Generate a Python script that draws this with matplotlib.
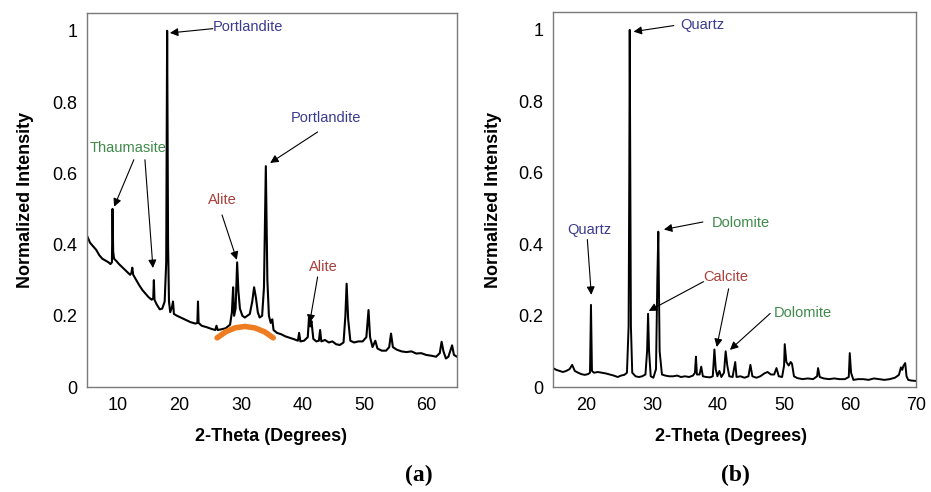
import numpy as np
import matplotlib
matplotlib.use("Agg")
import matplotlib.pyplot as plt

plt.rcParams["font.family"] = ["Liberation Sans", "DejaVu Sans"]

# ---- panel (a): cement paste pattern
a_2theta = [5.0, 5.5, 6.0, 6.5, 7.0, 7.5, 8.0, 8.5, 8.8, 9.05, 9.15, 9.25, 9.4, 9.7,
            10.2, 10.8, 11.4, 12.0, 12.2, 12.35, 12.5, 13.0, 13.5, 14.0, 14.5, 15.0,
            15.5, 15.75, 15.85, 15.95, 16.3, 16.8, 17.2, 17.6, 17.85, 18.0, 18.15, 18.3,
            18.5, 18.8, 18.95, 19.1, 19.6, 20.2, 21.0, 21.8, 22.6, 22.9, 23.0, 23.1,
            23.6, 24.4, 25.2, 25.8, 26.0, 26.2, 26.8, 27.5, 28.2, 28.5, 28.7, 28.85,
            29.1, 29.35, 29.55, 29.8, 30.2, 30.6, 31.0, 31.4, 31.8, 32.1, 32.4, 32.7,
            33.0, 33.4, 33.7, 34.0, 34.25, 34.5, 34.8, 35.05, 35.25, 35.8, 36.5, 37.2,
            37.9, 38.6, 39.2, 39.4, 39.6, 40.2, 40.8, 41.0, 41.2, 41.4, 41.7, 42.2,
            42.6, 42.8, 43.0, 43.6, 44.2, 44.8, 45.4, 46.0, 46.6, 46.9, 47.1, 47.35,
            47.7, 48.3, 49.0, 49.7, 50.3, 50.65, 50.9, 51.3, 51.75, 52.1, 52.8, 53.5,
            54.0, 54.3, 54.6, 55.2, 56.0, 56.8, 57.6, 58.4, 59.2, 60.0, 60.8, 61.6,
            62.2, 62.5, 62.8, 63.2, 63.6, 64.2, 64.5, 65.0]
a_intensity = [0.425, 0.405, 0.395, 0.385, 0.37, 0.36, 0.355, 0.35, 0.345, 0.35, 0.50, 0.38, 0.36, 0.355,
               0.345, 0.335, 0.325, 0.315, 0.32, 0.335, 0.315, 0.30, 0.285, 0.272, 0.262, 0.252,
               0.245, 0.25, 0.30, 0.245, 0.232, 0.218, 0.22, 0.24, 0.35, 1.0, 0.40, 0.24,
               0.21, 0.225, 0.24, 0.205, 0.20, 0.195, 0.188, 0.182, 0.178, 0.18, 0.24, 0.18,
               0.172, 0.168, 0.163, 0.16, 0.172, 0.16, 0.162, 0.165, 0.175, 0.21, 0.28, 0.20,
               0.22, 0.35, 0.27, 0.22, 0.20, 0.195, 0.20, 0.205, 0.24, 0.28, 0.25, 0.21,
               0.195, 0.20, 0.28, 0.62, 0.30, 0.20, 0.18, 0.19, 0.16, 0.152, 0.148, 0.142,
               0.138, 0.134, 0.13, 0.152, 0.128, 0.13, 0.14, 0.195, 0.17, 0.185, 0.135, 0.128,
               0.13, 0.16, 0.128, 0.132, 0.125, 0.128, 0.12, 0.118, 0.125, 0.20, 0.29, 0.19,
               0.13, 0.125, 0.128, 0.128, 0.14, 0.216, 0.14, 0.112, 0.13, 0.108, 0.102, 0.102,
               0.112, 0.15, 0.112, 0.105, 0.10, 0.098, 0.10, 0.094, 0.095, 0.09, 0.088, 0.085,
               0.095, 0.127, 0.10, 0.08, 0.085, 0.117, 0.09, 0.085]

# amorphous hump marked in orange
hump_2theta = [26.1, 27.5, 29.0, 30.6, 32.2, 33.8, 35.2]
hump_intensity = [0.138, 0.155, 0.166, 0.17, 0.166, 0.155, 0.138]

# ---- panel (b): aggregate pattern
b_2theta = [15.0, 15.5, 16.0, 16.5, 17.0, 17.5, 17.9, 18.3, 18.8, 19.3, 19.8, 20.3, 20.6,
            20.75, 20.9, 21.2, 21.8, 22.4, 23.0, 23.6, 24.2, 24.8, 25.3, 25.8, 26.2,
            26.45, 26.55, 26.62, 26.8, 27.0, 27.5, 28.0, 28.5, 29.0, 29.25, 29.4, 29.55,
            29.8, 30.2, 30.6, 30.8, 30.95, 31.15, 31.5, 32.0, 32.6, 33.2, 33.8, 34.4,
            35.0, 35.6, 36.2, 36.5, 36.65, 36.8, 37.2, 37.45, 37.7, 38.2, 38.8, 39.2,
            39.45, 39.65, 39.9, 40.2, 40.5, 40.9, 41.15, 41.4, 41.7, 42.2, 42.6, 42.8,
            43.4, 44.0, 44.6, 44.9, 45.2, 45.8, 46.4, 47.0, 47.5, 48.0, 48.5, 48.85,
            49.2, 49.7, 50.0, 50.1, 50.35, 50.7, 51.0, 51.2, 51.5, 52.0, 52.8, 53.6,
            54.4, 55.0, 55.15, 55.4, 56.0, 56.8, 57.6, 58.4, 59.2, 59.8, 59.95, 60.15,
            60.5, 61.2, 62.0, 62.8, 63.6, 64.4, 65.2, 66.0, 66.8, 67.4, 67.7, 67.9,
            68.1, 68.35, 68.55, 68.8, 69.3, 70.0]
b_intensity = [0.053, 0.048, 0.045, 0.042, 0.045, 0.05, 0.062, 0.045, 0.04, 0.036, 0.034, 0.036, 0.04,
               0.23, 0.045, 0.04, 0.042, 0.04, 0.038, 0.035, 0.032, 0.028, 0.032, 0.034, 0.04,
               0.17, 0.58, 1.0, 0.17, 0.04, 0.03, 0.028, 0.03, 0.035, 0.10, 0.205, 0.10,
               0.03, 0.026, 0.05, 0.30, 0.435, 0.10, 0.035, 0.032, 0.03, 0.03, 0.032, 0.028,
               0.03, 0.028, 0.032, 0.04, 0.085, 0.035, 0.035, 0.057, 0.03, 0.028, 0.027, 0.03,
               0.105, 0.05, 0.03, 0.045, 0.028, 0.04, 0.10, 0.06, 0.03, 0.028, 0.07, 0.028,
               0.03, 0.026, 0.03, 0.062, 0.03, 0.026, 0.03, 0.038, 0.042, 0.035, 0.035, 0.053,
               0.03, 0.028, 0.06, 0.12, 0.07, 0.06, 0.07, 0.065, 0.03, 0.025, 0.022, 0.024,
               0.022, 0.03, 0.053, 0.028, 0.024, 0.022, 0.024, 0.022, 0.022, 0.028, 0.095, 0.04,
               0.02, 0.022, 0.022, 0.02, 0.024, 0.022, 0.02, 0.022, 0.026, 0.034, 0.055, 0.048,
               0.06, 0.067, 0.03, 0.02, 0.018, 0.017]

BLUE = "#3b3b8f"
GREEN = "#3f8a4a"
RED = "#a8403b"

# label text, colour, text position, list of (arrow start, arrow tip)
a_labels = [
    ("Portlandite", BLUE, (31.1, 1.011), [((25.4, 1.006), (18.45, 0.994))]),
    ("Portlandite", BLUE, (43.7, 0.756), [((42.4, 0.716), (34.7, 0.629))]),
    ("Thaumasite", GREEN, (11.6, 0.671), [((12.6, 0.638), (9.4, 0.506)),
                                          ((14.4, 0.638), (15.7, 0.334))]),
    ("Alite", RED, (26.9, 0.525), [((26.9, 0.483), (29.3, 0.357))]),
    ("Alite", RED, (43.25, 0.337), [((42.4, 0.309), (41.1, 0.18))]),
]
b_labels = [
    ("Quartz", BLUE, (37.6, 1.014), [((33.3, 1.012), (27.2, 0.995))]),
    ("Quartz", BLUE, (20.5, 0.441), [((20.2, 0.413), (20.8, 0.258))]),
    ("Dolomite", GREEN, (43.4, 0.458), [((37.7, 0.462), (31.8, 0.441))]),
    ("Calcite", RED, (41.1, 0.309), [((37.8, 0.295), (29.5, 0.213)),
                                     ((41.6, 0.275), (39.8, 0.112))]),
    ("Dolomite", GREEN, (52.9, 0.208), [((47.9, 0.206), (41.8, 0.104))]),
]

fig = plt.figure(figsize=(9.31, 4.92), dpi=100)
ax_a = fig.add_axes([0.0934, 0.2134, 0.3975, 0.7602])
ax_b = fig.add_axes([0.594, 0.2134, 0.390, 0.7622])


def style_axis(ax, xlim, xticks):
    ax.set_xlim(*xlim)
    ax.set_ylim(0, 1.05)
    ax.set_xticks(xticks)
    ax.set_yticks([0, 0.2, 0.4, 0.6, 0.8, 1.0])
    ax.set_yticklabels(["0", "0.2", "0.4", "0.6", "0.8", "1"])
    ax.tick_params(length=0, labelsize=13, pad=7)
    for s in ax.spines.values():
        s.set_color("#7a7a7a")
        s.set_linewidth(1.0)
    ax.set_xlabel("2-Theta (Degrees)", fontsize=13, fontweight="bold")
    ax.set_ylabel("Normalized Intensity", fontsize=13, fontweight="bold")
    ax.xaxis.label.set_va("center")
    ax.yaxis.label.set_va("center")


def add_labels(ax, labels):
    for txt, col, pos, arrows in labels:
        ax.text(pos[0], pos[1], txt, color=col, fontsize=10.5, ha="center", va="center")
        for start, tip in arrows:
            ax.annotate("", xy=tip, xytext=start,
                        arrowprops=dict(arrowstyle="-|>", color="black", lw=0.8,
                                        mutation_scale=12, shrinkA=0, shrinkB=0))


ax_a.plot(a_2theta, a_intensity, color="black", lw=1.5)
ax_a.plot(hump_2theta, hump_intensity, color="#ee7d22", lw=4, solid_capstyle="round")
style_axis(ax_a, (5, 65), [10, 20, 30, 40, 50, 60])
ax_a.xaxis.set_label_coords(0.497, -0.131)
ax_a.yaxis.set_label_coords(-0.165, 0.5)
add_labels(ax_a, a_labels)

ax_b.plot(b_2theta, b_intensity, color="black", lw=1.4)
style_axis(ax_b, (15, 70), [20, 30, 40, 50, 60, 70])
ax_b.xaxis.set_label_coords(0.49, -0.131)
ax_b.yaxis.set_label_coords(-0.163, 0.5)
add_labels(ax_b, b_labels)

fig.text(419 / 931, 1 - 475 / 492, "(a)", family="Liberation Serif", fontsize=17,
         fontweight="bold", ha="center", va="center")
fig.text(735 / 931, 1 - 475 / 492, "(b)", family="Liberation Serif", fontsize=17,
         fontweight="bold", ha="center", va="center")

fig.savefig("out.png", dpi=100)
